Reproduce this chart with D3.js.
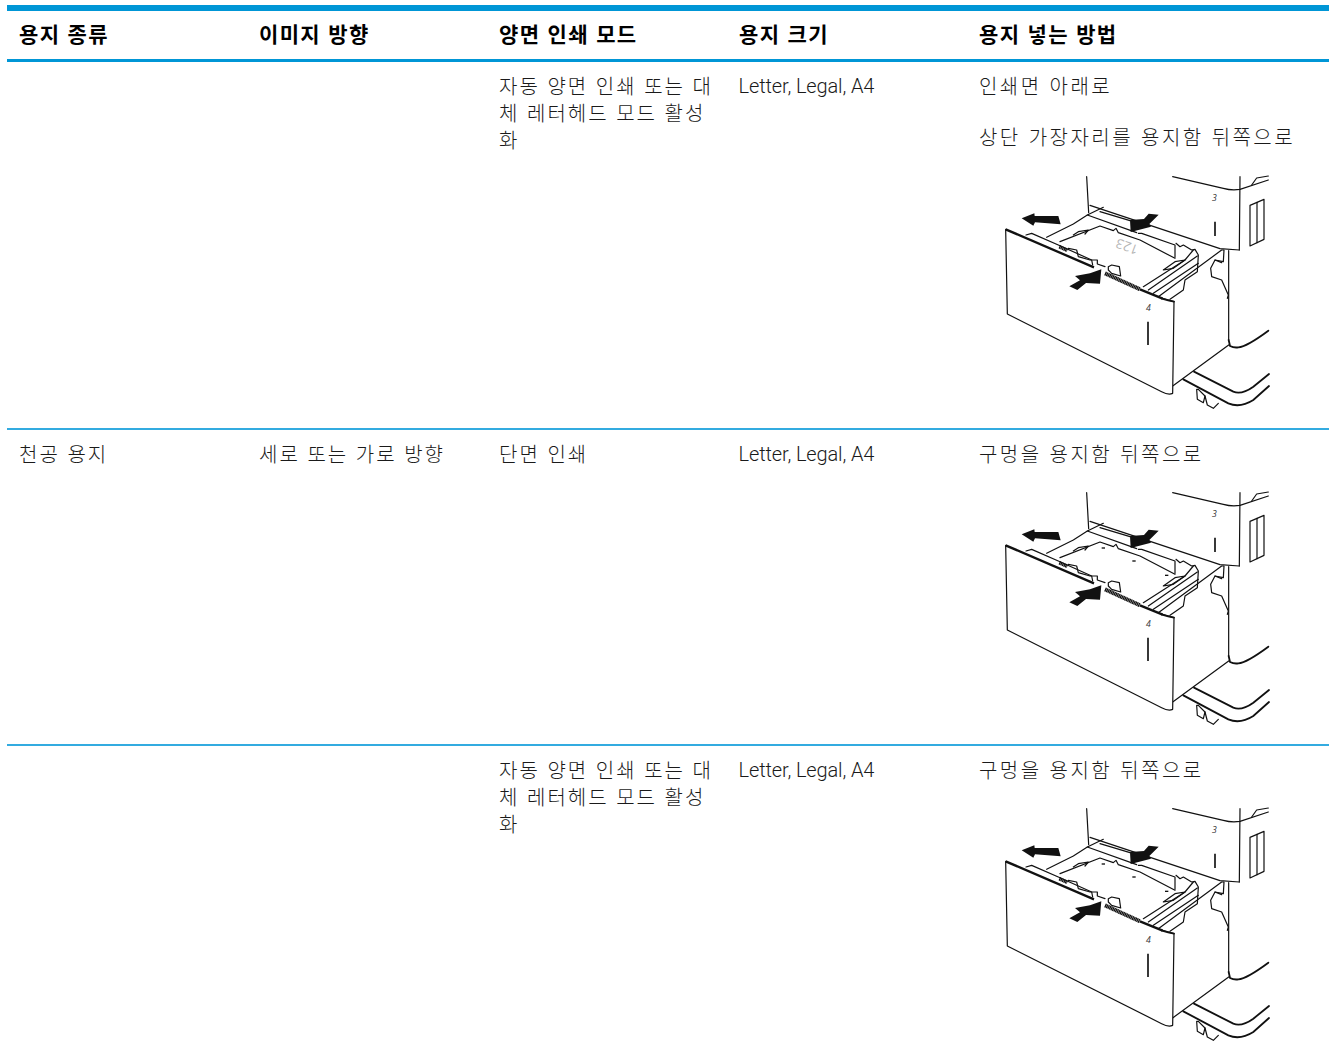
<!DOCTYPE html>
<html lang="ko">
<head>
<meta charset="utf-8">
<script src="https://cdn.jsdelivr.net/npm/d3@7"></script>
<style>
  html, body { margin: 0; background: #fff; }
  svg { display: block; }
  text { font-family: "Noto Sans CJK KR", sans-serif; fill: #1a1a1a; }
  .head { font-size: 21px; font-weight: 700; fill: #000; letter-spacing: 1.35px; }
  .cell { font-size: 20px; font-weight: 300; letter-spacing: 2px; }
  .last { letter-spacing: 2.45px; }
  .latin { font-family: "Roboto", sans-serif; font-size: 20px; font-weight: 300; letter-spacing: -0.12px; }
  .ink { fill: none; stroke: #111; stroke-width: 3.6; stroke-linejoin: round; stroke-linecap: round; }
  .heavy { fill: none; stroke: #111; stroke-width: 5.5; stroke-linecap: round; }
  .thick { fill: none; stroke: #111; stroke-width: 7; }
</style>
</head>
<body>
<svg width="1330" height="1059"></svg>
<script>
const headers = ["용지 종류", "이미지 방향", "양면 인쇄 모드", "용지 크기", "용지 넣는 방법"];
const duplexLines = ["자동 양면 인쇄 또는 대", "체 레터헤드 모드 활성", "화"];
const sizes = "Letter, Legal, A4";

// one entry per table row: top of the row and its cell text
const rowTops = [62, 430, 746];
const paperType = ["", "천공 용지", ""];
const orientation = ["", "세로 또는 가로 방향", ""];
const duplexMode = [duplexLines, ["단면 인쇄"], duplexLines];
const loading = [
    ["인쇄면 아래로", "", "상단 가장자리를 용지함 뒤쪽으로"],
    ["구멍을 용지함 뒤쪽으로"],
    ["구멍을 용지함 뒤쪽으로"]
];
const imageTops = [170, 486, 802];
const paperMark = ["123", "holes", "holes"];

const blue = "#0096d6";
const svg = d3.select("svg");

const x = d3.scaleLinear().domain([0, 4]).range([19, 979]);
const lineY = d3.scaleLinear().domain([0, 1]).range([31.5, 58.5]);

// table rules
svg.append("rect").attr("x", 7).attr("y", 5).attr("width", 1322).attr("height", 6).attr("fill", blue);
svg.append("rect").attr("x", 7).attr("y", 59).attr("width", 1322).attr("height", 3).attr("fill", blue);
svg.selectAll(".rule")
    .data(rowTops.slice(1))
    .enter().append("rect")
    .attr("class", "rule")
    .attr("x", 7)
    .attr("y", d => d - 2)
    .attr("width", 1322)
    .attr("height", 2)
    .attr("fill", "#33abe0");

svg.selectAll(".head")
    .data(headers)
    .enter().append("text")
    .attr("class", "head")
    .attr("x", (d, i) => x(i))
    .attr("y", 42)
    .text(d => d);

function cellLines(column, lines, top) {
    lines.forEach((line, i) => {
        if (!line) return;
        svg.append("text")
            .attr("class", column === 4 ? "cell last" : "cell")
            .attr("x", x(column))
            .attr("y", top + lineY(i) - (column === 4 && i > 1 ? 3 : 0))
            .text(line);
    });
}

rowTops.forEach((top, r) => {
    cellLines(0, [paperType[r]], top);
    cellLines(1, [orientation[r]], top);
    cellLines(2, duplexMode[r], top);
    svg.append("text").attr("class", "latin").attr("x", x(3) - 0.5).attr("y", top + 31).text(sizes);
    cellLines(4, loading[r], top);
});

// tray illustration, drawn once in a 870x735 box and placed per row
function drawTray(g, mark) {
    const ink = d => g.append("path").attr("class", "ink").attr("d", d);
    const heavy = d => g.append("path").attr("class", "heavy").attr("d", d);
    const solid = d => g.append("path").attr("fill", "#111").attr("d", d);

    // printer body
    ink("M290,20 L296,128");
    ink("M300,106 L690,236 L748,240");
    ink("M548,20 L700,55 Q725,62 750,58 L835,30");
    ink("M750,20 L748,240");
    ink("M785,45 L800,24 L835,18");
    ink("M716,242 L716,510");
    heavy("M716,510 L720,528 Q732,534 745,532 Q770,530 835,482");
    ink("M780,106 L822,88 L822,208 L780,228 Z");
    ink("M801,97 L801,218");
    g.append("path").attr("d", "M675,155 V198").attr("stroke", "#111").attr("stroke-width", 5);

    // lower part behind the drawer
    ink("M545,650 L716,525");
    heavy("M612,605 L730,665 Q755,675 790,650 L837,612");
    heavy("M580,628 L715,700 Q750,715 790,690 L837,648");
    ink("M620,658 L622,688 L640,698 L645,678 L625,658 Z");
    ink("M645,678 L652,705 L670,715 L685,700");

    // drawer front
    g.append("path")
        .attr("class", "ink")
        .style("fill", "#fff")
        .attr("d", "M47,178 L52,432 L515,665 Q535,676 548,670 L552,395 L518,385");
    g.append("path").attr("class", "thick").attr("d", "M47,178 L312,292");
    g.append("path").attr("d", "M345,310 L450,358").attr("fill", "none").attr("stroke", "#111").attr("stroke-width", 12).attr("stroke-dasharray", "4 1");
    g.append("path").attr("class", "thick").attr("d", "M450,358 L518,386");
    heavy("M516,386 Q535,392 552,395");
    g.append("path").attr("d", "M474,455 V525").attr("stroke", "#111").attr("stroke-width", 5);

    // tray inside, left
    ink("M108,195 L125,190 L205,225 L305,270 L308,285");
    ink("M170,202 L250,162 L292,135 L340,112");
    ink("M292,135 L440,188");
    ink("M330,125 L420,152");
    ink("M210,215 L330,168 L370,182 L378,175 L385,188 L450,210 L555,265");
    ink("M250,195 L265,185 L295,180 L285,192");
    ink("M235,235 L260,240 L265,260 L300,270 L322,270 L322,282 L345,290");
    ink("M355,290 L365,285 L388,290 L392,318 L365,310 L355,300 Z");
    g.append("path").attr("d", "M208,230 L232,241").attr("fill", "none").attr("stroke", "#111").attr("stroke-width", 11).attr("stroke-dasharray", "4 1");

    // tray inside, right
    ink("M445,190 L455,190 L555,225 L555,262");
    ink("M558,220 L570,230 L580,225 L605,240 L615,238 L625,255 L622,305 L585,330 L580,360 L540,388");
    ink("M460,350 L585,270 L610,240");
    ink("M475,360 L622,258");
    ink("M490,370 L625,280");
    ink("M520,300 L555,275 L585,270 L550,295 Z");
    ink("M505,380 L695,240 L702,240 L700,275 L675,270 L662,295 L665,320 L695,330 L715,375 L712,385");
    ink("M675,270 L695,278");

    // arrows
    solid("M95,145 L133,130 L134,138 L205,138 L212,163 L135,157 L130,167 Z");
    solid("M422,186 L420,150 L462,147 L476,131 L506,134 L478,162 L483,170 Z");
    solid("M238,349 L270,331 L255,318 L300,310 L334,298 L330,341 L288,339 L262,360 Z");

    g.selectAll(".num")
        .data([["3", 673, 92], ["4", 475, 424]])
        .enter().append("text")
        .attr("x", d => d[1])
        .attr("y", d => d[2])
        .attr("text-anchor", "middle")
        .style("fill", "#333")
        .attr("font-size", 26)
        .style("font-family", "Open Sans")
        .style("font-style", "italic")
        .text(d => d[0]);

    if (mark === "123") {
        g.append("text")
            .attr("transform", "translate(412,226) rotate(200)")
            .attr("text-anchor", "middle")
            .attr("dominant-baseline", "middle")
            .attr("font-size", 40)
            .style("fill", "#b5b5b5")
            .style("font-family", "Open Sans")
            .text("123");
    } else {
        g.selectAll(".hole")
            .data([[340, 186], [432, 225], [530, 268]])
            .enter().append("rect")
            .attr("x", d => d[0] - 5)
            .attr("y", d => d[1] - 2)
            .attr("width", 10)
            .attr("height", 4)
            .attr("fill", "#111");
    }
}

imageTops.forEach((top, i) => {
    const g = svg.append("g").attr("transform", `translate(990,${top}) scale(${1 / 3})`);
    drawTray(g, paperMark[i]);
});
</script>
</body>
</html>
